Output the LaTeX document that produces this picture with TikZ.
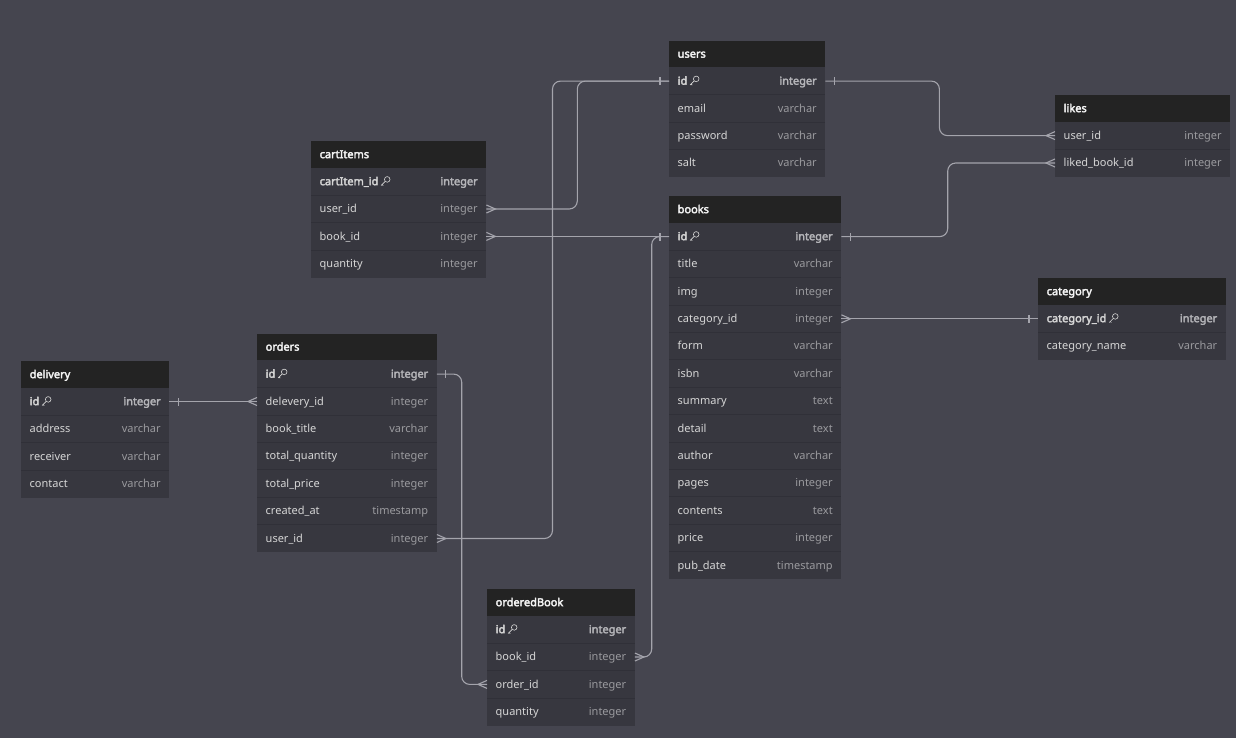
\documentclass[tikz,border=0pt]{standalone}
\usepackage{fontspec}
\setmainfont{Noto Sans}[AutoFakeBold=3]
\usetikzlibrary{calc}
\definecolor{bgc}{HTML}{45454F}
\definecolor{hdrc}{HTML}{232323}
\definecolor{rowc}{HTML}{37373F}
\definecolor{sepc}{HTML}{303038}
\definecolor{titlec}{HTML}{F4F4F4}
\definecolor{namec}{HTML}{D6D6D6}
\definecolor{typec}{HTML}{9A9A9E}
\definecolor{pktypec}{HTML}{B4B4B8}
\definecolor{linec}{HTML}{A4A4AC}
\newcommand\fsz{\fontsize{11}{13}\selectfont}
\newcommand\keyic{\hspace{2.5pt}\tikz[x=1pt,y=1pt,baseline=0pt,line width=0.6pt]{%
  \draw[namec] (6.6,5.8) circle (2.8);
  \draw[namec] (4.6,3.8) -- (0.5,-0.3);
  \draw[namec] (1.5,0.7) -- (2.6,-0.4);}}
\tikzset{
  hdr/.style={fill=hdrc, draw=none, minimum height=26.7pt, inner sep=0pt, anchor=north west},
  rowbox/.style={fill=rowc, draw=none, minimum height=27.4pt, inner sep=0pt, anchor=north west},
  txt/.style={inner sep=0pt, text height=8pt, text depth=2.4pt, font=\fsz, yshift=-0.8pt},
  hdrtext/.style={txt, anchor=west, text=titlec, font=\fsz\bfseries},
  n-fld/.style={txt, anchor=west, text=namec},
  n-pk/.style={txt, anchor=west, text=namec, font=\fsz\bfseries},
  t-fld/.style={txt, anchor=east, text=typec},
  t-pk/.style={txt, anchor=east, text=pktypec, font=\fsz\bfseries},
  conn/.style={draw=linec, line width=1.1pt, rounded corners=8pt},
  endmk/.style={draw=linec, line width=1.1pt},
  sepline/.style={draw=sepc, line width=0.8pt},
}
% #1 id, #2 x, #3 y, #4 width, #5 title, #6 rows
\newcommand\erd[6]{%
  \node[hdr, minimum width=#4pt] (#1) at (#2,#3) {};
  \node[hdrtext] at ([xshift=8.5pt]#1.west) {#5};
  \foreach \f/\t/\s [count=\i] in {#6} {
    \node[rowbox, minimum width=#4pt] (#1-\i) at ($(#2,#3)+(0,{26.7+(\i-1)*27.4})$) {};
    \ifnum\i>1 \draw[sepline] (#1-\i.north west) -- (#1-\i.north east); \fi
    \node[n-\s] at ([xshift=8.5pt]#1-\i.west) {\f};
    \node[t-\s] at ([xshift=-8.5pt]#1-\i.east) {\t};
  }
}
\newcommand\onemk[2]{\draw[endmk] ([xshift=#2*9pt, yshift=-4pt]#1) -- ([xshift=#2*9pt, yshift=4pt]#1);}
\newcommand\crowmk[2]{\draw[endmk] ([yshift=4pt]#1) -- ([xshift=#2*9pt]#1) -- ([yshift=-4pt]#1);}
\begin{document}
\begin{tikzpicture}[x=1pt,y=-1pt]
\fill[bgc] (0,0) rectangle (1236,738);
\useasboundingbox (0,0) rectangle (1236,738);

\erd{users}{669}{40.5}{156}{users}{id\keyic/integer/pk, email/varchar/fld, password/varchar/fld, salt/varchar/fld}
\erd{likes}{1055}{95}{175}{likes}{user\_id/integer/fld, liked\_book\_id/integer/fld}
\erd{cartItems}{311}{141}{175}{cartItems}{cartItem\_id\keyic/integer/pk, user\_id/integer/fld, book\_id/integer/fld, quantity/integer/fld}
\erd{books}{669}{196}{172}{books}{id\keyic/integer/pk, title/varchar/fld, img/integer/fld, category\_id/integer/fld, form/varchar/fld, isbn/varchar/fld, summary/text/fld, detail/text/fld, author/varchar/fld, pages/integer/fld, contents/text/fld, price/integer/fld, pub\_date/timestamp/fld}
\erd{category}{1038}{278}{187.5}{category}{category\_id\keyic/integer/pk, category\_name/varchar/fld}
\erd{orders}{257}{333.5}{179.5}{orders}{id\keyic/integer/pk, delevery\_id/integer/fld, book\_title/varchar/fld, total\_quantity/integer/fld, total\_price/integer/fld, created\_at/timestamp/fld, user\_id/integer/fld}
\erd{delivery}{21}{361}{148}{delivery}{id\keyic/integer/pk, address/varchar/fld, receiver/varchar/fld, contact/varchar/fld}
\erd{orderedBook}{487}{589}{147.5}{orderedBook}{id\keyic/integer/pk, book\_id/integer/fld, order\_id/integer/fld, quantity/integer/fld}

\coordinate (v1) at (577.3,0);
\coordinate (v2) at (552.5,0);
\coordinate (v4) at (651.7,0);
\coordinate (v5) at (461.7,0);
\coordinate (v7) at (939.4,0);
\coordinate (v8) at (947.7,0);

% users.id -> cartItems.user_id
\draw[conn] (users-1.west) -- (users-1.west -| v1) -- (cartItems-2.east -| v1) -- (cartItems-2.east);
% users.id -> orders.user_id
\draw[conn] (users-1.west) -- (users-1.west -| v2) -- (orders-7.east -| v2) -- (orders-7.east);
% books.id -> cartItems.book_id
\draw[conn] (books-1.west) -- (books-1.west -| cartItems-3.east);
% books.id -> orderedBook.book_id
\draw[conn] (books-1.west) -- (books-1.west -| v4) -- (orderedBook-2.east -| v4) -- (orderedBook-2.east);
% orders.id -> orderedBook.order_id
\draw[conn] (orders-1.east) -- (orders-1.east -| v5) -- (orderedBook-3.west -| v5) -- (orderedBook-3.west);
% delivery.id -> orders.delevery_id
\draw[conn] (delivery-1.east) -- (delivery-1.east -| orders-2.west);
% users.id -> likes.user_id
\draw[conn] (users-1.east) -- (users-1.east -| v7) -- (likes-1.west -| v7) -- (likes-1.west);
% books.id -> likes.liked_book_id
\draw[conn] (books-1.east) -- (books-1.east -| v8) -- (likes-2.west -| v8) -- (likes-2.west);
% books.category_id -> category.category_id
\draw[conn] (books-4.east) -- (books-4.east -| category-1.west);

\onemk{users-1.west}{-1}
\crowmk{cartItems-2.east}{1}
\crowmk{orders-7.east}{1}
\onemk{books-1.west}{-1}
\crowmk{cartItems-3.east}{1}
\crowmk{orderedBook-2.east}{1}
\onemk{orders-1.east}{1}
\crowmk{orderedBook-3.west}{-1}
\onemk{delivery-1.east}{1}
\crowmk{orders-2.west}{-1}
\onemk{users-1.east}{1}
\crowmk{likes-1.west}{-1}
\onemk{books-1.east}{1}
\crowmk{likes-2.west}{-1}
\crowmk{books-4.east}{1}
\onemk{category-1.west}{-1}
\end{tikzpicture}
\end{document}
